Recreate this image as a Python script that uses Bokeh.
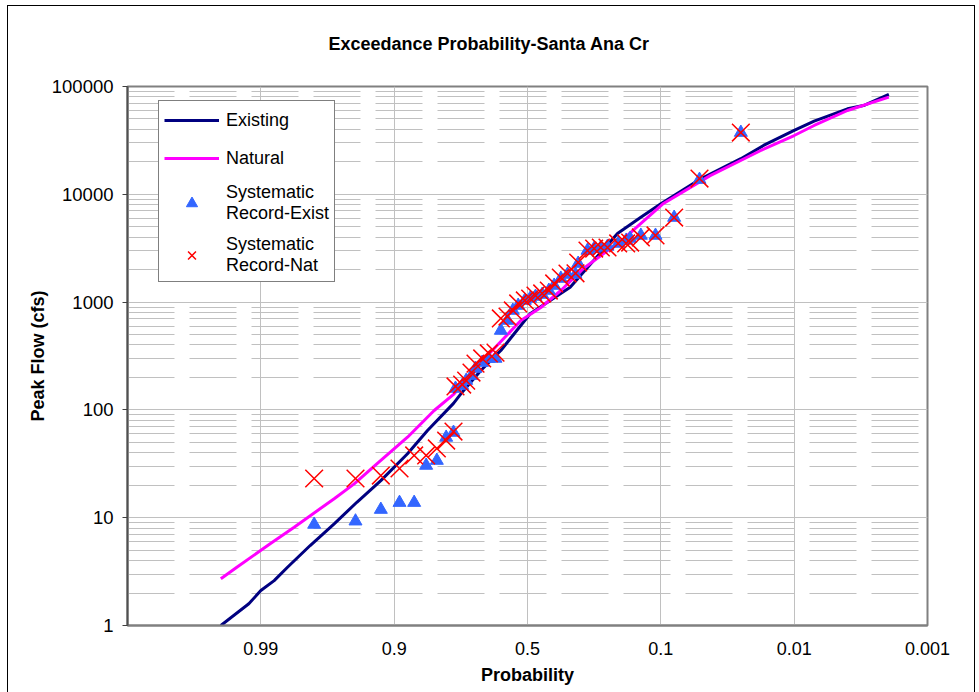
from bokeh.plotting import figure
from bokeh.models import (FixedTicker, Legend, LegendItem, PrintfTickFormatter)
from bokeh.embed import file_html
from bokeh.resources import INLINE

# ---------------- data ----------------
# x is the position along the probability axis, in axis intervals:
# 1 -> 0.99, 2 -> 0.9, 3 -> 0.5, 4 -> 0.1, 5 -> 0.01, 6 -> 0.001
tick_positions = [1, 2, 3, 4, 5, 6]
tick_labels = ["0.99", "0.9", "0.5", "0.1", "0.01", "0.001"]

existing_pos = [0.70, 0.91, 1.00, 1.10, 1.20, 1.37, 1.55, 1.72, 1.90, 2.10,
                2.25, 2.445, 2.50, 2.65, 2.80, 3.02, 3.32, 3.675, 3.85, 4.00,
                4.30, 4.60, 4.77, 5.00, 5.15, 5.40, 5.52, 5.71]
existing_flow = [1.0, 1.59, 2.11, 2.61, 3.47, 5.52, 8.78, 13.9, 22.1, 39.2,
                 64.4, 115, 141, 232, 356, 779, 1376, 4330, 6130, 8170,
                 13900, 21400, 28400, 39100, 47700, 62100, 66600, 84300]

natural_pos = [0.70, 0.82, 1.07, 1.25, 1.55, 1.70, 1.87, 2.10, 2.30, 2.45,
               2.70, 2.95, 3.10, 3.25, 3.42, 3.72, 4.02, 4.37, 4.75, 5.00,
               5.15, 5.40, 5.71]
natural_flow = [2.71, 3.47, 5.73, 8.17, 15.0, 20.6, 31.6, 55.8, 98.7, 141,
                320, 675, 891, 1281, 2050, 3860, 8220, 14900, 25500, 35100,
                43500, 59900, 79600]

record_pos = [1.40, 1.71, 1.90, 2.04, 2.15, 2.24, 2.32, 2.39, 2.445, 2.46,
              2.51, 2.54, 2.58, 2.61, 2.66, 2.71, 2.76, 2.80, 2.85, 2.89,
              2.93, 2.98, 3.02, 3.06, 3.11, 3.16, 3.20, 3.25, 3.30, 3.36,
              3.38, 3.45, 3.50, 3.55, 3.60, 3.68, 3.74, 3.77, 3.85, 3.96,
              4.10, 4.29, 4.60]
record_exist = [8.65, 9.28, 11.9, 13.8, 13.8, 30.5, 33.9, 55.5, 61.7, 158,
                168, 187, 208, 242, 275, 300, 300, 545, 675, 836,
                930, 1035, 1080, 1127, 1176, 1281, 1426, 1656, 1803, 1803,
                2280, 3010, 3140, 3210, 3280, 3500, 3730, 3890, 4150, 4150,
                6090, 13700, 37400]
record_nat = [23.1, 23.1, 24.6, 28.6, 37.8, 37.8, 43.9, 52, 63, 165,
              172, 187, 222, 269, 300, 334, 340, 705, 735, 836,
              971, 1035, 1080, 1151, 1202, 1281, 1488, 1691, 1842, 1850,
              2330, 3010, 3140, 3210, 3210, 3500, 3500, 3570, 3975, 4150,
              6090, 14000, 37400]

y_ticks = [1, 10, 100, 1000, 10000, 100000]
y_minor = [m * d for d in [1, 10, 100, 1000, 10000] for m in range(2, 10)]

FONT = "Liberation Sans"

p = figure(width=979, height=692, x_range=(0, 6), y_range=(1, 100000),
           y_axis_type="log", output_backend="svg", toolbar_location=None,
           min_border_left=127, min_border_right=52, min_border_top=86,
           min_border_bottom=67)

p.border_fill_color = None
p.background_fill_color = "white"
p.outline_line_color = "#808080"
p.outline_line_width = 2
p.styles = {"box-shadow": "inset 7px 5px 0 0 #fff, inset -4px 0 0 0 #fff, "
                          "inset 8px 6px 0 0 #000, inset -5px 0 0 0 #000"}

# title
p.title.text = "Exceedance Probability-Santa Ana Cr"
p.title.align = "left"
p.title.vertical_align = "top"
p.title.offset = 201
p.title.standoff = 62
p.title.text_font = FONT
p.title.text_font_size = "18px"
p.title.text_font_style = "bold"
p.title.text_color = "black"

# x axis
xa = p.xaxis[0]
xa.ticker = FixedTicker(ticks=tick_positions)
xa.major_label_overrides = {t: l for t, l in zip(tick_positions, tick_labels)}
xa.axis_label = "Probability"
xa.axis_label_text_font = FONT
xa.axis_label_text_font_size = "18px"
xa.axis_label_text_font_style = "bold"
xa.axis_label_text_color = "black"
xa.axis_label_standoff = 7
xa.major_label_text_font = FONT
xa.major_label_text_font_size = "18px"
xa.major_label_text_color = "black"
xa.major_label_standoff = 16
xa.major_tick_out = 0
xa.major_tick_in = 0
xa.minor_tick_out = 0
xa.minor_tick_in = 0
xa.axis_line_color = "#808080"
xa.axis_line_width = 2

# y axis
ya = p.yaxis[0]
ya.ticker = FixedTicker(ticks=y_ticks, minor_ticks=y_minor)
ya.formatter = PrintfTickFormatter(format="%d")
ya.axis_label = "Peak Flow (cfs)"
ya.axis_label_text_font = FONT
ya.axis_label_text_font_size = "18px"
ya.axis_label_text_font_style = "bold"
ya.axis_label_text_color = "black"
ya.axis_label_standoff = 1
ya.major_label_text_font = FONT
ya.major_label_text_font_size = "18.5px"
ya.major_label_text_color = "black"
ya.major_label_standoff = 9
ya.major_tick_out = 5
ya.major_tick_in = 0
ya.major_tick_line_color = "#404040"
ya.minor_tick_out = 0
ya.minor_tick_in = 0
ya.axis_line_color = "#505050"
ya.axis_line_width = 2

# grids
p.xgrid.grid_line_color = "#C0C0C0"
p.xgrid.grid_line_width = 1
p.ygrid.grid_line_color = "#C0C0C0"
p.ygrid.grid_line_width = 1
p.ygrid.minor_grid_line_color = "#C0C0C0"
p.ygrid.minor_grid_line_width = 1
p.ygrid.minor_grid_line_dash = "47 15"

# series
r_exist = p.line(existing_pos, existing_flow, line_color="#000080", line_width=3)
r_nat = p.line(natural_pos, natural_flow, line_color="#FF00FF", line_width=3)
r_tri = p.scatter(record_pos, record_exist, marker="triangle", size=13,
                  fill_color="#3366FF", line_color="#3366FF")
r_x = p.scatter(record_pos, record_nat, marker="x", size=25,
                line_color="#FF0000", line_width=1.5)

legend = Legend(items=[
    LegendItem(label="Existing", renderers=[r_exist]),
    LegendItem(label="Natural", renderers=[r_nat]),
    LegendItem(label="Systematic\nRecord-Exist", renderers=[r_tri]),
    LegendItem(label="Systematic\nRecord-Nat", renderers=[r_x]),
], location=(31, 343))
legend.border_line_color = "black"
legend.border_line_width = 1
legend.background_fill_color = "white"
legend.background_fill_alpha = 1
legend.label_text_font = FONT
legend.label_text_font_size = "18px"
legend.label_text_color = "black"
legend.glyph_width = 55
legend.glyph_height = 28
legend.label_standoff = 7
legend.padding = 5
legend.spacing = 10
legend.margin = 0
p.add_layout(legend)

open("out.html", "w").write(file_html(p, INLINE))
